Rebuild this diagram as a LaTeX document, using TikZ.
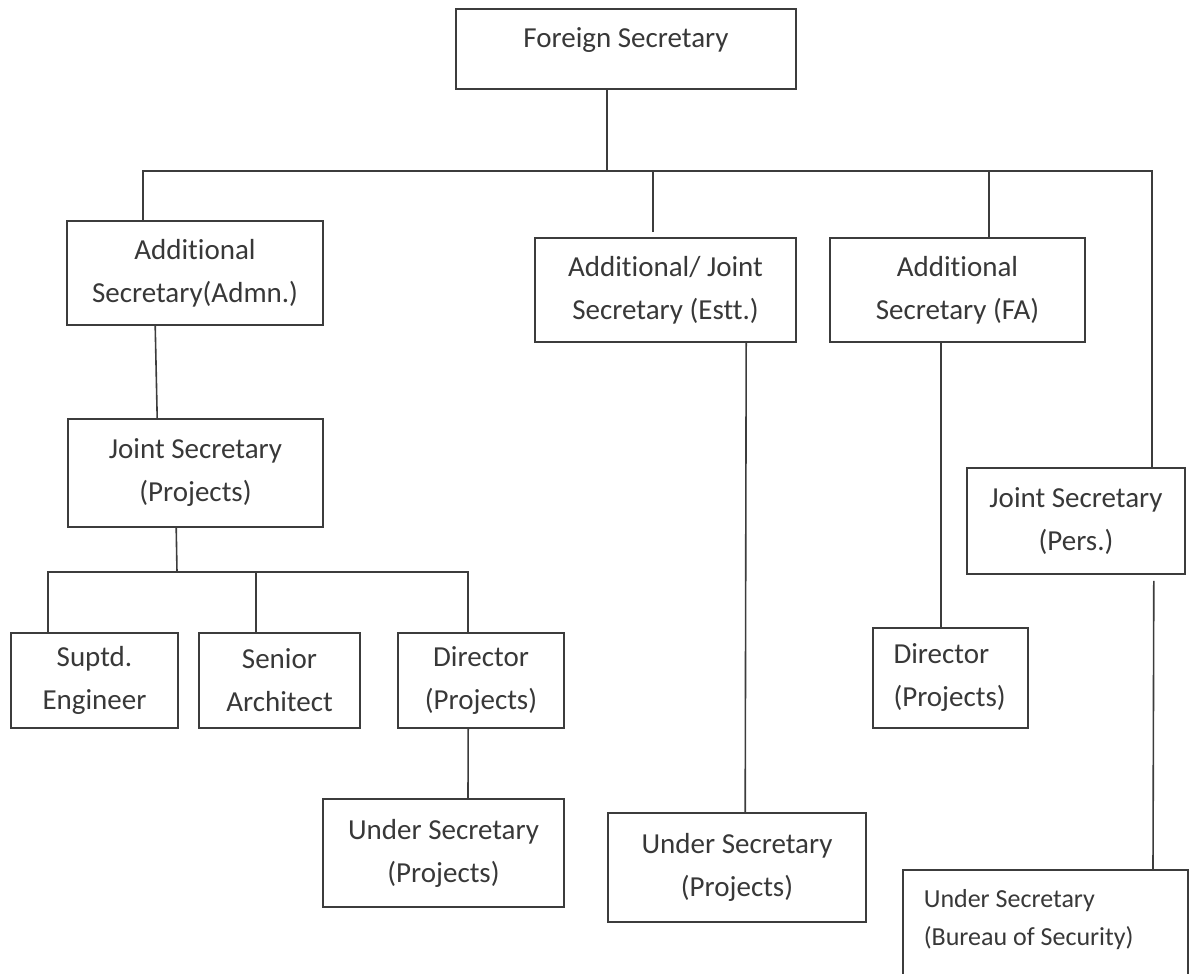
\documentclass[tikz,border=0pt]{standalone}
\usepackage{fontspec}
\setmainfont[Ligatures={NoCommon,NoRequired,NoContextual}]{Carlito}
\usetikzlibrary{positioning}
\definecolor{linec}{HTML}{3C3C3C}
\definecolor{textc}{HTML}{383838}

\begin{document}
\begin{tikzpicture}[x=1pt,y=-1pt,
box/.style={draw=linec,line width=1.6pt,text=textc,align=center,inner sep=0pt,font=\fontsize{29}{43}\selectfont},
boxl/.style={box,align=flush left,inner xsep=20.5pt},
link/.style={draw=linec,line width=1.6pt}]
\useasboundingbox (0,0) rectangle (1192,974);
\clip (0,0) rectangle (1192,974);
\node[box,minimum width=340pt,minimum height=80pt,text height=20pt,text depth=22pt] (fs) at (626,49) {Foreign Secretary};
\node[box,minimum width=256pt,minimum height=104pt] (admn) at (195,273) {Additional\\Secretary(Admn.)};
\node[box,minimum width=261pt,minimum height=104pt] (estt) at (665.5,290) {Additional/ Joint\\Secretary (Estt.)};
\node[box,minimum width=255pt,minimum height=104pt] (fa) at (957.5,290) {Additional\\Secretary (FA)};
\node[box,minimum width=255pt,minimum height=108pt] (js) at (195.5,473) {Joint Secretary\\(Projects)};
\node[box,minimum width=218pt,minimum height=106pt] (pers) at (1076,521) {Joint Secretary\\(Pers.)};
\node[box,minimum width=167pt,minimum height=95pt] (sup) at (94.5,680.5) {Suptd.\\Engineer};
\node[box,minimum width=161pt,minimum height=95pt,right=19.4pt of sup] (arch) {Senior\\Architect};
\node[box,minimum width=166pt,minimum height=95pt,right=36.4pt of arch] (dir) {Director\\(Projects)};
\node[box,minimum width=241pt,minimum height=108pt] (usa) at (443.5,853) {Under Secretary\\(Projects)};
\node[box,minimum width=258pt,minimum height=109pt] (usb) at (737,867.5) {Under Secretary\\(Projects)};
\node[boxl,text width=114pt,minimum height=100pt] (dirb) at (950.5,678) {Director\\(Projects)};
\node[boxl,anchor=north west,text width=243pt,inner xsep=21pt,inner ysep=20pt,text depth=100pt,font=\fontsize{26}{38}\selectfont] (usc) at (902,869) {Under Secretary\\(Bureau of Security)};
\coordinate (bus) at (607,171);
\coordinate (sbus) at (177,572);
\draw[link] (fs.south -| bus) -- (bus);
\draw[link] ([xshift=77pt]admn.north west) |- (bus) -| ([xshift=-34pt]pers.north east);
\draw[link] ([xshift=119pt,yshift=5pt]estt.north west) |- (bus);
\draw[link] ([xshift=160pt]fa.north west) |- (bus);
\draw[link] ([xshift=89pt]admn.south west) -- ([xshift=90pt]js.north west);
\draw[link] ([xshift=109pt]js.south west) -- (sbus);
\draw[link] ([xshift=38pt]sup.north west) |- (sbus) -| ([xshift=71pt]dir.north west);
\draw[link] ([xshift=58pt]arch.north west) |- (sbus);
\draw[link] ([xshift=71pt]dir.south west) -- ([xshift=145.8pt]usa.north west);
\draw[link] ([xshift=212pt]estt.south west) -- ([xshift=138pt]usb.north west);
\draw[link] ([xshift=112pt]fa.south west) -- ([xshift=69pt]dirb.north west);
\draw[link] ([xshift=-32pt,yshift=-6pt]pers.south east) -- ([xshift=251pt]usc.north west);
\end{tikzpicture}
\end{document}
